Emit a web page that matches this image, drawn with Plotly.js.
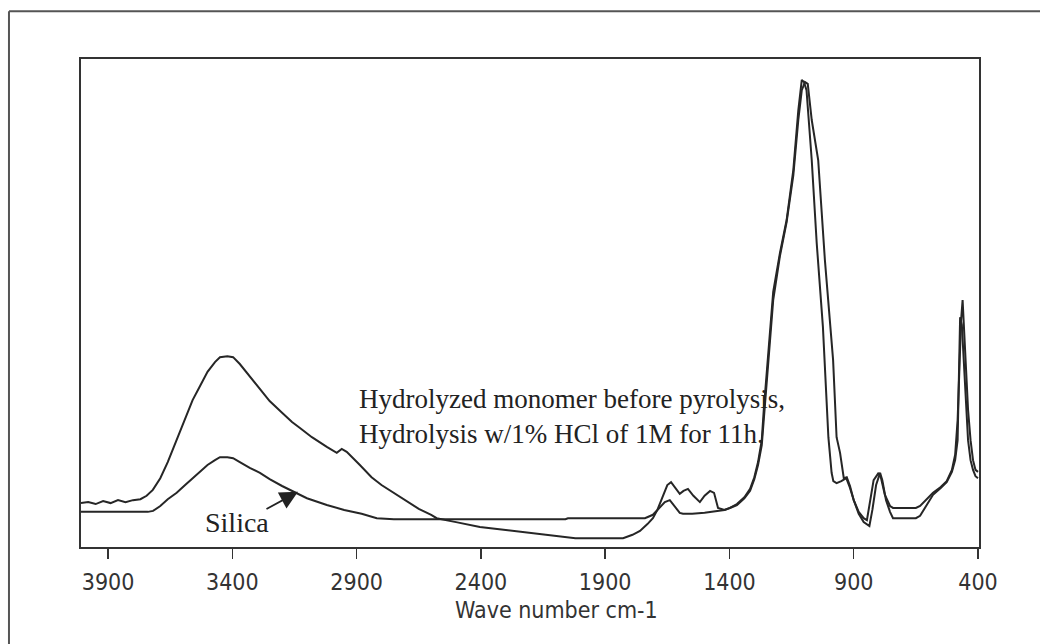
<!DOCTYPE html>
<html>
<head>
<meta charset="utf-8">
<script src="https://cdn.plot.ly/plotly-3.0.1.min.js"></script>
<style>html,body{margin:0;padding:0;background:#fff;}#chart{width:1040px;height:644px;}</style>
</head>
<body>
<div id="chart"></div>
<script>
// Hydrolyzed monomer before pyrolysis (wavenumber, cm-1 / arbitrary absorbance)
const monomerWn = [4009,3980,3950,3920,3890,3860,3830,3800,3770,3745,3720,3690,3660,3624,3590,3560,3530,3500,3470,3450,3420,3397,3370,3330,3289,3250,3200,3160,3128,3080,3020,2980,2960,2940,2887,2840,2800,2752,2700,2650,2600,2578,2500,2404,2300,2200,2100,2020,1950,1880,1828,1790,1760,1730,1708,1690,1670,1650,1635,1620,1600,1585,1567,1545,1519,1500,1478,1462,1446,1420,1398,1370,1340,1317,1300,1285,1270,1262,1250,1224,1197,1170,1143,1123,1109,1100,1090,1069,1049,1024,1002,989,982,969,950,930,915,900,880,860,847,837,820,800,790,775,754,742,700,650,633,600,581,550,526,505,492,482,475,468,462,455,448,440,430,420,410,400];
const monomerAbs = [9.0,9.2,8.8,9.4,9.0,9.6,9.2,9.6,9.8,10.5,11.7,14.1,17.4,21.9,26.4,30.1,33.0,35.9,37.9,38.9,39.1,38.9,37.5,35.0,32.2,29.9,27.5,25.6,24.4,22.5,20.5,19.3,20.1,19.5,16.8,14.3,12.7,11.1,9.4,7.8,6.6,5.9,5.1,4.1,3.5,2.9,2.3,1.8,1.8,1.8,1.8,2.5,3.3,4.7,5.9,7.6,10.2,12.7,13.3,12.3,10.9,11.5,11.9,10.5,9.2,10.5,11.5,11.1,8.0,7.6,8.0,8.8,10.2,11.9,14.3,17.4,21.9,28.1,35.9,52.3,60.2,67.0,77.3,89.5,95.7,95.3,93.6,79.3,62.3,45.1,22.5,15.2,13.5,13.1,13.5,14.1,12.1,9.6,7.2,5.9,5.5,8.6,13.7,15.2,14.1,10.7,8.4,8.0,8.0,8.0,8.4,10.0,11.1,12.3,13.5,15.8,18.9,26.0,38.3,46.5,50.6,44.5,36.3,28.1,21.9,17.8,15.8,15.4];

// Silica
const silicaWn = [4009,3900,3800,3740,3719,3690,3660,3624,3590,3560,3530,3500,3470,3450,3420,3397,3370,3330,3289,3250,3200,3153,3100,3020,2950,2880,2819,2750,2600,2400,2200,2060,2050,1900,1800,1740,1708,1680,1660,1640,1620,1600,1587,1550,1500,1446,1420,1398,1370,1340,1317,1300,1285,1270,1262,1250,1224,1197,1170,1143,1123,1109,1096,1085,1069,1043,1016,983,969,955,940,928,915,900,880,860,837,825,810,794,785,770,754,742,700,650,633,600,581,550,526,505,492,482,472,465,458,450,440,430,420,410,400];
const silicaAbs = [7.2,7.2,7.2,7.2,7.4,8.4,9.8,11.1,12.7,14.1,15.6,16.8,17.8,18.4,18.4,18.2,17.4,16.2,15.2,13.9,12.5,11.3,10.0,8.6,7.6,6.8,5.9,5.7,5.7,5.7,5.7,5.7,5.9,5.9,5.9,5.9,6.6,8.0,9.2,9.6,8.2,7.0,6.8,6.8,7.0,7.4,7.6,8.0,8.6,10.0,11.5,13.9,16.8,20.9,26.0,34.2,50.6,59.6,66.6,76.2,87.5,93.6,95.3,94.9,87.5,79.3,58.8,38.3,22.5,19.3,14.1,14.3,12.5,9.6,6.8,5.1,4.3,7.6,12.7,15.2,13.7,9.6,7.2,5.9,5.9,5.9,6.4,9.0,10.7,12.1,13.3,15.4,17.8,21.9,47.1,45.5,38.3,30.1,21.9,17.8,15.8,14.5,14.1];

const tickVals = [3900,3400,2900,2400,1900,1400,900,400];
const tickText = ['3900','3400','2900','2400','1900','1400','900','400'];

const lineStyle = {color:'#262626', width:2};
const traces = [
  {x: monomerWn, y: monomerAbs, type:'scatter', mode:'lines', line: lineStyle, name:'Hydrolyzed monomer', hoverinfo:'x+y'},
  {x: silicaWn, y: silicaAbs, type:'scatter', mode:'lines', line: lineStyle, name:'Silica', hoverinfo:'x+y'}
];

const narrow = '"DejaVu Sans Condensed", "Liberation Sans Narrow", sans-serif';
const serif = '"Liberation Serif", "Times New Roman", serif';

const layout = {
  width:1040, height:644,
  margin:{l:81, r:61, t:59, b:97},
  paper_bgcolor:'#fff', plot_bgcolor:'#fff',
  showlegend:false,
  xaxis:{
    range:[4009,396], autorange:false,
    tickmode:'array', tickvals:tickVals, ticktext:tickText,
    ticks:'outside', ticklen:10, tickwidth:1.5, tickcolor:'#333',
    showline:true, linecolor:'#333', linewidth:2, mirror:true,
    showgrid:false, zeroline:false,
    tickfont:{family:narrow, size:23, color:'#333'},
    ticklabelstandoff:3
  },
  yaxis:{
    range:[0,100], autorange:false,
    showticklabels:false, ticks:'',
    showline:true, linecolor:'#333', linewidth:2, mirror:true,
    showgrid:false, zeroline:false
  },
  annotations:[
    {xref:'x', yref:'y', x:2899, y:26.8, xanchor:'left', yanchor:'middle', align:'left', showarrow:false,
     text:'Hydrolyzed monomer before pyrolysis,<br>Hydrolysis w/1% HCl of 1M for 11h.', font:{family:serif, size:27, color:'#222'}},
    {xref:'x', yref:'y', x:3381, y:5.1, xanchor:'center', yanchor:'middle', showarrow:false,
     text:'Silica', font:{family:serif, size:28, color:'#222'}},
    {xref:'x', yref:'y', x:3136, y:11.3, text:'', showarrow:true, axref:'pixel', ayref:'pixel',
     ax:-33, ay:18, arrowhead:2, arrowsize:2, arrowwidth:1.8, arrowcolor:'#222'},
    {xref:'paper', yref:'paper', x:0.53, y:-0.13, xanchor:'center', yanchor:'middle', showarrow:false,
     text:'Wave number cm-1', font:{family:narrow, size:23, color:'#333'}}
  ],
  shapes:[
    {type:'line', xref:'paper', yref:'paper', x0:-0.0802, x1:1.1, y0:1.098, y1:1.098, line:{color:'#555', width:2}},
    {type:'line', xref:'paper', yref:'paper', x0:-0.0802, x1:-0.0802, y0:1.098, y1:-0.25, line:{color:'#555', width:2}}
  ]
};

Plotly.newPlot('chart', traces, layout, {staticPlot:true});
</script>
</body>
</html>
